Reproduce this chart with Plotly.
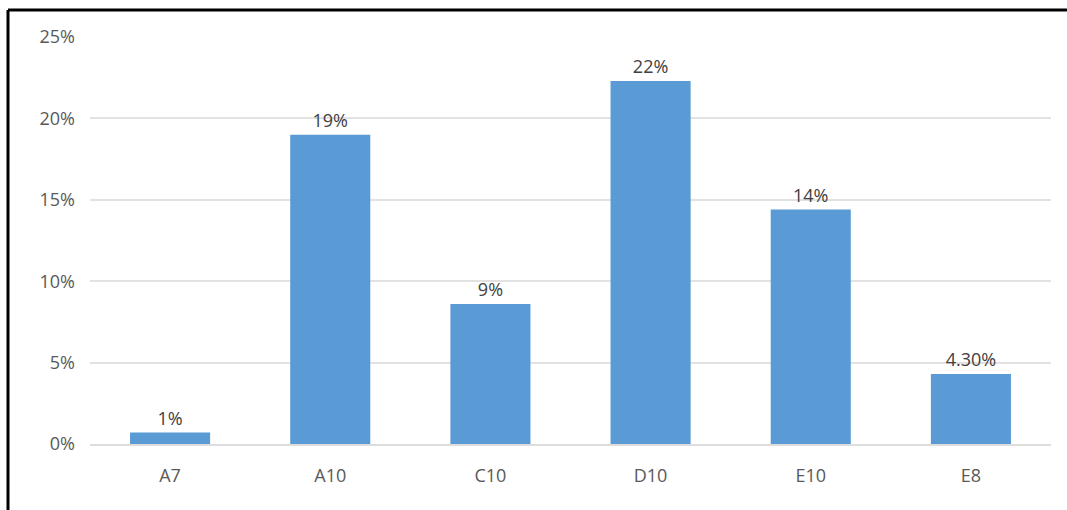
import plotly.graph_objects as go

# Share of each unit
categories = ["A7", "A10", "C10", "D10", "E10", "E8"]
shares = [0.007, 0.19, 0.086, 0.223, 0.144, 0.043]
label_decimals = [0, 0, 0, 0, 0, 2]
y_ticks = [0, 0.05, 0.10, 0.15, 0.20, 0.25]
y_tick_labels = ["0%", "5%", "10%", "15%", "20%", "25%"]

labels = [f"{v * 100:.{d}f}%" for v, d in zip(shares, label_decimals)]

W, H = 1067, 510
ML, MR, MT, MB = 90, 16, 37, 66
plot_w = W - ML - MR
plot_h = H - MT - MB

FONT = "Open Sans, Liberation Sans, sans-serif"
TEXT_COLOR = "#595959"
FONT_SIZE = 18

fig = go.Figure(
    go.Bar(
        x=categories,
        y=shares,
        text=labels,
        textposition="outside",
        cliponaxis=False,
        marker=dict(color="#5B9BD5", line=dict(width=0)),
        textfont=dict(family=FONT, size=FONT_SIZE, color="#404040"),
    )
)

# Frame on the left and top edges of the image, placed in paper units
left_x = (8 - ML) / plot_w
top_y = 1 + (MT - 10) / plot_h
fig.add_shape(type="line", xref="paper", yref="paper",
              x0=left_x, x1=left_x, y0=-2, y1=top_y,
              line=dict(color="black", width=3))
fig.add_shape(type="line", xref="paper", yref="paper",
              x0=left_x, x1=2, y0=top_y, y1=top_y,
              line=dict(color="black", width=3))

fig.update_layout(
    width=W,
    height=H,
    margin=dict(l=ML, r=MR, t=MT, b=MB),
    paper_bgcolor="white",
    plot_bgcolor="white",
    bargap=0.5,
    showlegend=False,
    font=dict(family=FONT, size=FONT_SIZE, color=TEXT_COLOR),
)
fig.update_xaxes(
    showgrid=False,
    showline=True,
    linecolor="#DDDDDD",
    linewidth=2,
    ticks="",
    ticklabelstandoff=14,
    tickfont=dict(family=FONT, size=FONT_SIZE, color=TEXT_COLOR),
)
fig.update_yaxes(
    range=[0, 0.25],
    tickvals=y_ticks,
    ticktext=y_tick_labels,
    showgrid=True,
    gridcolor="#E2E2E2",
    gridwidth=2,
    zeroline=False,
    showline=False,
    ticks="",
    ticklabelstandoff=14,
    tickfont=dict(family=FONT, size=FONT_SIZE, color=TEXT_COLOR),
)

fig.write_html("out.html")
